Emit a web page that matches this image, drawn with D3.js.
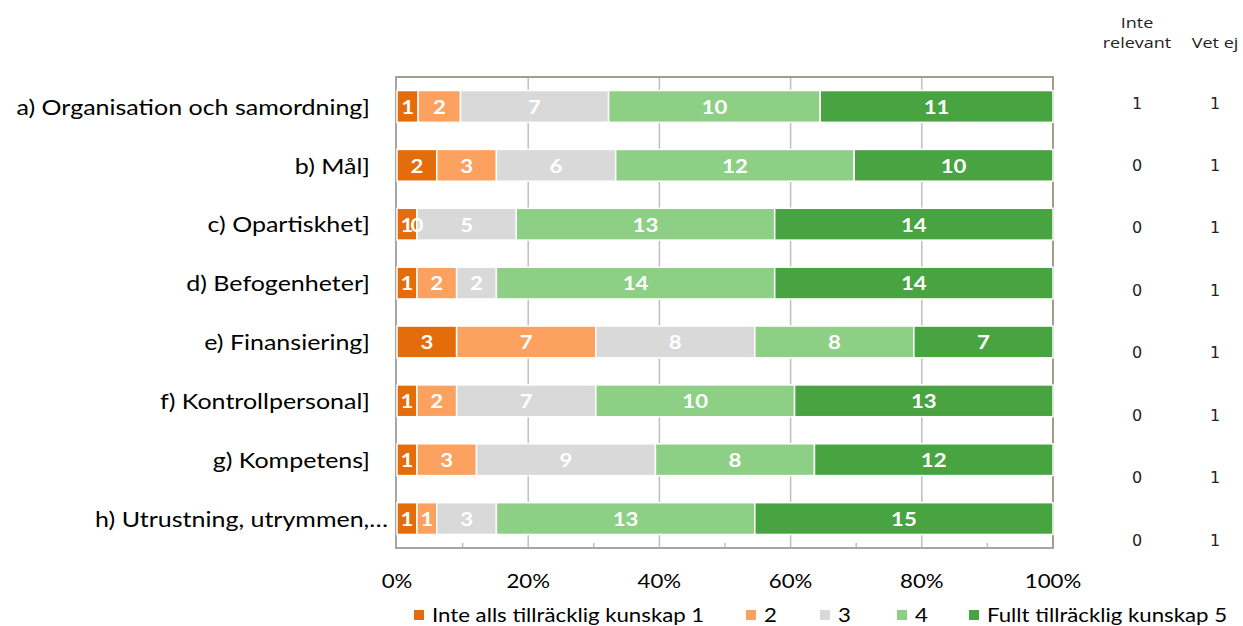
<!DOCTYPE html>
<html><head><meta charset="utf-8">
<script src="https://cdn.jsdelivr.net/npm/d3@7"></script>
<style>body{margin:0;background:#fff}svg{display:block}</style>
</head><body>
<svg id="c" width="1243" height="626"></svg>
<script>
const categories = ["a) Organisation och samordning]","b) Mål]","c) Opartiskhet]","d) Befogenheter]","e) Finansiering]","f) Kontrollpersonal]","g) Kompetens]","h) Utrustning, utrymmen,…"];
const seriesNames = ["Inte alls tillräcklig kunskap 1","2","3","4","Fullt tillräcklig kunskap 5"];
const s1 = [1,2,1,1,3,1,1,1];
const s2 = [2,3,0,2,7,2,3,1];
const s3 = [7,6,5,2,8,7,9,3];
const s4 = [10,12,13,14,8,10,8,13];
const s5 = [11,10,14,14,7,13,12,15];
const inteRelevant = [1,0,0,0,0,0,0,0];
const vetEj = [1,1,1,1,1,1,1,1];
const tickValues = [0,0.2,0.4,0.6,0.8,1];
const colors = ["#E46C0A","#FCA15F","#D9D9D9","#8ECF86","#48A341"];

const FONT = "Lato, 'Open Sans', sans-serif";
const SX = 1.17;
const svg = d3.select("#c");
const rows = categories.map((c,i)=>({cat:c, s0:s1[i], s1:s2[i], s2:s3[i], s3:s4[i], s4:s5[i]}));
const keys = ["s0","s1","s2","s3","s4"];
const stacked = d3.stack().keys(keys).offset(d3.stackOffsetExpand)(rows);

const x = d3.scaleLinear().domain([0,1]).range([397,1053]);
const y = d3.scaleBand().domain(categories).range([77,548]).paddingInner(0.46).paddingOuter(0.23);

function place(sel, fx, fy, sx){
  return sel.attr("x",0).attr("y",0).attr("transform",(d,i)=>`translate(${fx(d,i)},${fy(d,i)}) scale(${sx},1)`);
}

// gridlines
svg.append("g").selectAll("line").data(tickValues.slice(1,-1)).join("line")
  .attr("x1",d=>x(d)).attr("x2",d=>x(d)).attr("y1",77).attr("y2",548)
  .attr("stroke","#BFBFBF").attr("stroke-width",1.5);
// minor ticks at bottom
svg.append("g").selectAll("line").data([0.1,0.3,0.5,0.7,0.9]).join("line")
  .attr("x1",d=>x(d)).attr("x2",d=>x(d)).attr("y1",543).attr("y2",548)
  .attr("stroke","#BFBFBF").attr("stroke-width",1.5);
// frame
svg.append("line").attr("x1",396).attr("x2",1054).attr("y1",77).attr("y2",77).attr("stroke","#A39D8C").attr("stroke-width",2);
svg.append("line").attr("x1",1053).attr("x2",1053).attr("y1",77).attr("y2",548).attr("stroke","#A39D8C").attr("stroke-width",2);
svg.append("line").attr("x1",396).attr("x2",1054).attr("y1",548).attr("y2",548).attr("stroke","#A6A6A6").attr("stroke-width",2);
svg.append("line").attr("x1",396).attr("x2",396).attr("y1",76).attr("y2",549).attr("stroke","#A6A6A6").attr("stroke-width",2);

// bars
const g = svg.append("g");
stacked.forEach((layer,li)=>{
  g.append("g").selectAll("rect").data(layer).join("rect")
    .attr("x",d=>x(d[0])).attr("width",d=>Math.max(0,x(d[1])-x(d[0])))
    .attr("y",d=>y(d.data.cat)).attr("height",y.bandwidth())
    .attr("fill",colors[li]).attr("stroke","#fff").attr("stroke-width",1.5);
});
stacked.forEach((layer,li)=>{
  place(g.append("g").selectAll("text").data(layer).join("text"),
      d=>x((d[0]+d[1])/2), d=>y(d.data.cat)+y.bandwidth()/2, SX)
    .attr("text-anchor","middle").attr("dominant-baseline","central")
    .attr("fill","#fff").attr("font-weight","bold").attr("font-size",19).attr("font-family",FONT)
    .text(d=>d.data[keys[li]]);
});

// category labels (truncated label extends a bit further right, as in the source)
place(svg.append("g").selectAll("text").data(categories).join("text"),
    d=>d.endsWith("…") ? 388 : 370, d=>y(d)+y.bandwidth()/2, 1.19)
  .attr("text-anchor","end").attr("dominant-baseline","central")
  .attr("font-size",21).attr("font-family",FONT).attr("fill","#000").text(d=>d);

// x tick labels
place(svg.append("g").selectAll("text").data(tickValues).join("text"),
    d=>x(d), ()=>581, SX)
  .attr("text-anchor","middle").attr("dominant-baseline","central")
  .attr("font-size",19).attr("font-family",FONT).attr("fill","#000").text(d=>d3.format(".0%")(d));

// right columns
const ry = d3.scalePoint().domain(categories).range([103,540]);
const colX = [1137,1215];
const headers = [["Inte",colX[0],22],["relevant",colX[0],42],["Vet ej",colX[1],42]];
place(svg.append("g").selectAll("text").data(headers).join("text"), d=>d[1], d=>d[2], 1.2)
  .attr("text-anchor","middle").attr("dominant-baseline","central")
  .attr("font-size",15).attr("font-family","'Open Sans', sans-serif").attr("fill","#222").text(d=>d[0]);
[inteRelevant, vetEj].forEach((arr,ci)=>{
  svg.append("g").selectAll("text").data(arr).join("text")
    .attr("x",colX[ci]).attr("y",(d,i)=>ry(categories[i])).attr("text-anchor","middle").attr("dominant-baseline","central")
    .attr("font-size",16).attr("font-family","'DejaVu Sans', sans-serif").attr("fill","#222").text(d=>d);
});

// legend
const legX = [414,746,820,897,969];
const lg = svg.append("g").selectAll("g").data(seriesNames).join("g")
  .attr("transform",(d,i)=>`translate(${legX[i]},615)`);
lg.append("rect").attr("x",0).attr("y",-5).attr("width",10).attr("height",10).attr("fill",(d,i)=>colors[i]);
lg.append("text").attr("x",0).attr("y",0).attr("transform",`translate(18,0) scale(${SX},1)`).attr("dominant-baseline","central")
  .attr("font-size",19).attr("font-family",FONT).attr("fill","#000").text(d=>d);
</script>
</body></html>
